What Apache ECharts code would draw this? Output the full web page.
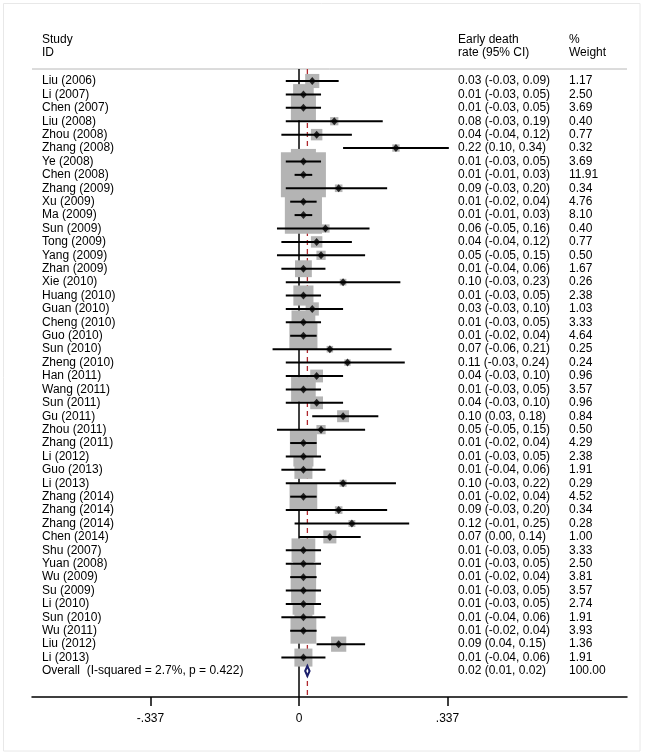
<!DOCTYPE html>
<html>
<head>
<meta charset="utf-8">
<script src="https://cdn.jsdelivr.net/npm/echarts@6/dist/echarts.min.js"></script>
<style>
  html, body { margin: 0; padding: 0; background: #ffffff; }
  #chart { width: 654px; height: 755px; }
</style>
</head>
<body>
<div id="chart"></div>
<script>
// ---- Data ----
const studies = ['Liu (2006)','Li (2007)','Chen (2007)','Liu (2008)','Zhou (2008)','Zhang (2008)','Ye (2008)','Chen (2008)','Zhang (2009)','Xu (2009)','Ma (2009)','Sun (2009)','Tong (2009)','Yang (2009)','Zhan (2009)','Xie (2010)','Huang (2010)','Guan (2010)','Cheng (2010)','Guo (2010)','Sun (2010)','Zheng (2010)','Han (2011)','Wang (2011)','Sun (2011)','Gu (2011)','Zhou (2011)','Zhang (2011)','Li (2012)','Guo (2013)','Li (2013)','Zhang (2014)','Zhang (2014)','Zhang (2014)','Chen (2014)','Shu (2007)','Yuan (2008)','Wu (2009)','Su (2009)','Li (2010)','Sun (2010)','Wu (2011)','Liu (2012)','Li (2013)'];
const estimates = [0.03,0.01,0.01,0.08,0.04,0.22,0.01,0.01,0.09,0.01,0.01,0.06,0.04,0.05,0.01,0.10,0.01,0.03,0.01,0.01,0.07,0.11,0.04,0.01,0.04,0.10,0.05,0.01,0.01,0.01,0.10,0.01,0.09,0.12,0.07,0.01,0.01,0.01,0.01,0.01,0.01,0.01,0.09,0.01];
const lower = [-0.03,-0.03,-0.03,-0.03,-0.04,0.10,-0.03,-0.01,-0.03,-0.02,-0.01,-0.05,-0.04,-0.05,-0.04,-0.03,-0.03,-0.03,-0.03,-0.02,-0.06,-0.03,-0.03,-0.03,-0.03,0.03,-0.05,-0.02,-0.03,-0.04,-0.03,-0.02,-0.03,-0.01,0.00,-0.03,-0.03,-0.02,-0.03,-0.03,-0.04,-0.02,0.04,-0.04];
const upper = [0.09,0.05,0.05,0.19,0.12,0.34,0.05,0.03,0.20,0.04,0.03,0.16,0.12,0.15,0.06,0.23,0.05,0.10,0.05,0.04,0.21,0.24,0.10,0.05,0.10,0.18,0.15,0.04,0.05,0.06,0.22,0.04,0.20,0.25,0.14,0.05,0.05,0.04,0.05,0.05,0.06,0.04,0.15,0.06];
const weights = [1.17,2.50,3.69,0.40,0.77,0.32,3.69,11.91,0.34,4.76,8.10,0.40,0.77,0.50,1.67,0.26,2.38,1.03,3.33,4.64,0.25,0.24,0.96,3.57,0.96,0.84,0.50,4.29,2.38,1.91,0.29,4.52,0.34,0.28,1.00,3.33,2.50,3.81,3.57,2.74,1.91,3.93,1.36,1.91];
const overallLabel = 'Overall  (I-squared = 2.7%, p = 0.422)';
const overallEst = 0.019;
const overallLower = 0.014;
const overallUpper = 0.024;
const overallWeight = 100.00;
const nullValue = 0;
const tickValues = [-0.337, 0, 0.337];
const tickLabels = ['-.337', '0', '.337'];

// ---- Layout / style ----
const FONT = '12px "Liberation Sans", Arial, sans-serif';
const TXT = '#000000';
const overallRow = studies.length;

const rowData = studies.map((s, i) => [0, i]);
rowData.push([0, overallRow]);

const chart = echarts.init(document.getElementById('chart'), null, { renderer: 'canvas' });

const option = {
  animation: false,
  backgroundColor: '#ffffff',
  grid: { left: 32, right: 27, top: 69, bottom: 58, containLabel: false },
  xAxis: {
    type: 'value',
    min: -0.6059,
    max: 0.7443,
    splitLine: { show: false },
    axisLine: { show: true, onZero: false, lineStyle: { color: '#000', width: 1.5 } },
    axisTick: { show: true, customValues: tickValues, length: 9, lineStyle: { color: '#000', width: 1.5 } },
    axisLabel: {
      show: true, customValues: tickValues, margin: 16,
      fontFamily: '"Liberation Sans", Arial, sans-serif', fontSize: 12, color: TXT,
      formatter: function (v) {
        const k = tickValues.findIndex(t => Math.abs(t - v) < 1e-9);
        return k >= 0 ? tickLabels[k] : '';
      }
    }
  },
  yAxis: {
    type: 'value', inverse: true, min: -0.895, max: 45.94,
    show: false, splitLine: { show: false }
  },
  graphic: [
    { type: 'rect', shape: { x: 3.5, y: 3.5, width: 636.5, height: 747.5 }, style: { fill: 'none', stroke: '#e8e8e8', lineWidth: 1 }, silent: true, z: -10 },
    { type: 'line', shape: { x1: 32, y1: 69, x2: 627, y2: 69 }, style: { stroke: '#b8b8b8', lineWidth: 1 }, z: 1 },
    { type: 'text', style: { x: 42, y: 40, text: 'Study', font: FONT, fill: TXT, verticalAlign: 'middle' } },
    { type: 'text', style: { x: 42, y: 53, text: 'ID', font: FONT, fill: TXT, verticalAlign: 'middle' } },
    { type: 'text', style: { x: 458, y: 40, text: 'Early death', font: FONT, fill: TXT, verticalAlign: 'middle' } },
    { type: 'text', style: { x: 458, y: 53, text: 'rate (95% CI)', font: FONT, fill: TXT, verticalAlign: 'middle' } },
    { type: 'text', style: { x: 569, y: 40, text: '%', font: FONT, fill: TXT, verticalAlign: 'middle' } },
    { type: 'text', style: { x: 569, y: 53, text: 'Weight', font: FONT, fill: TXT, verticalAlign: 'middle' } }
  ],
  series: [
    // reference lines (null line and overall dashed line), drawn behind boxes
    {
      type: 'custom', z: 1, silent: true, clip: false,
      data: [[nullValue, 0], [overallEst, 1]],
      renderItem: function (params, api) {
        const cs = params.coordSys;
        const x = api.coord([api.value(0), 0])[0];
        const dashed = api.value(1) === 1;
        return {
          type: 'line',
          shape: { x1: x, y1: cs.y, x2: x, y2: cs.y + cs.height },
          style: dashed
            ? { stroke: '#b0282e', lineWidth: 1.3, lineDash: [5, 4] }
            : { stroke: '#000', lineWidth: 1.5 }
        };
      }
    },
    // weight boxes
    {
      type: 'scatter', z: 2, silent: true,
      symbol: 'rect',
      data: estimates.map((e, i) => ({ value: [e, i], symbolSize: 13.04 * Math.sqrt(weights[i]) })),
      itemStyle: { color: '#b4b4b4', opacity: 1 }
    },
    // confidence interval lines
    {
      type: 'custom', z: 3, silent: true, clip: false,
      data: estimates.map((e, i) => [lower[i], upper[i], i]),
      renderItem: function (params, api) {
        const a = api.coord([api.value(0), api.value(2)]);
        const b = api.coord([api.value(1), api.value(2)]);
        return { type: 'line', shape: { x1: a[0], y1: a[1], x2: b[0], y2: b[1] }, style: { stroke: '#000', lineWidth: 2 } };
      }
    },
    // point estimates
    {
      type: 'scatter', z: 4, silent: true,
      symbol: 'diamond', symbolSize: [7, 8],
      data: estimates.map((e, i) => [e, i]),
      itemStyle: { color: '#000' }
    },
    // overall diamond
    {
      type: 'custom', z: 4, silent: true, clip: false,
      data: [[overallLower, overallEst, overallUpper, overallRow]],
      renderItem: function (params, api) {
        const row = api.value(3);
        const l = api.coord([api.value(0), row]);
        const c = api.coord([api.value(1), row]);
        const r = api.coord([api.value(2), row]);
        const h = 5;
        return {
          type: 'polygon',
          shape: { points: [[l[0], c[1]], [c[0], c[1] - h], [r[0], c[1]], [c[0], c[1] + h]] },
          style: { fill: '#ffffff', stroke: '#1b1f6b', lineWidth: 2 }
        };
      }
    },
    // text columns
    {
      type: 'custom', z: 5, silent: true, clip: false,
      data: rowData,
      renderItem: function (params, api) {
        const i = api.value(1);
        const y = api.coord([0, i])[1];
        let name, ci, w;
        if (i === overallRow) {
          name = overallLabel;
          ci = overallEst.toFixed(2) + ' (' + overallLower.toFixed(2) + ', ' + overallUpper.toFixed(2) + ')';
          w = overallWeight.toFixed(2);
        } else {
          name = studies[i];
          ci = estimates[i].toFixed(2) + ' (' + lower[i].toFixed(2) + ', ' + upper[i].toFixed(2) + ')';
          w = weights[i].toFixed(2);
        }
        const mk = (x, t) => ({ type: 'text', style: { x: x, y: y, text: t, font: FONT, fill: TXT, align: 'left', verticalAlign: 'middle' } });
        return { type: 'group', children: [mk(42, name), mk(458, ci), mk(569, w)] };
      }
    }
  ]
};

chart.setOption(option);
</script>
</body>
</html>
